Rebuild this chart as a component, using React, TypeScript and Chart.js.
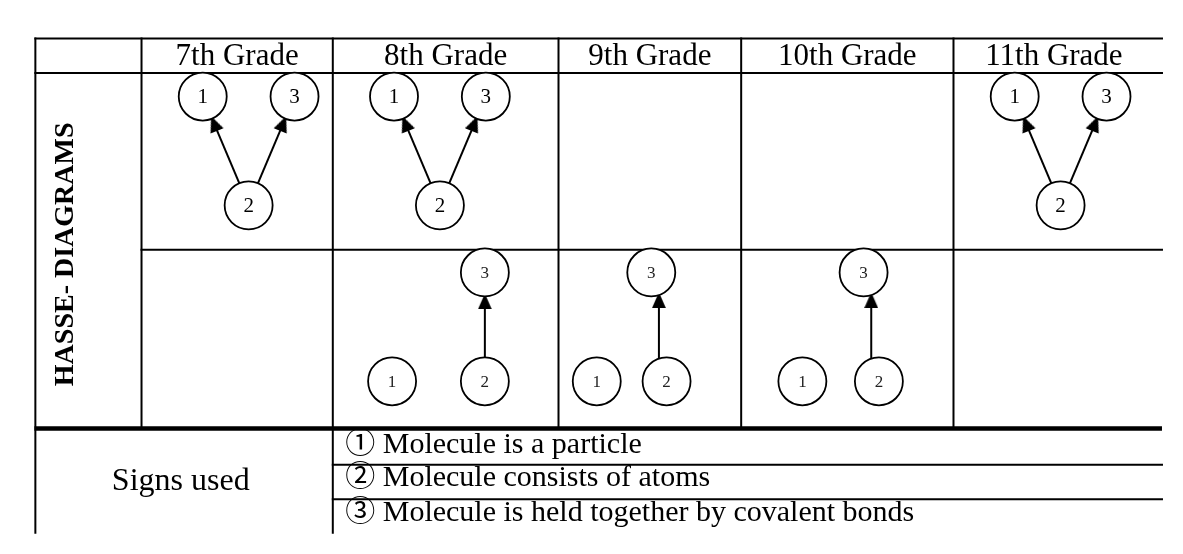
import React, { useEffect, useRef } from 'react';
import { Chart, registerables } from 'chart.js';

Chart.register(...registerables);

// ---------------- data ----------------
const grades = ['7th Grade', '8th Grade', '9th Grade', '10th Grade', '11th Grade'];
const nodeNames = ['1', '2', '3'];
// Hasse diagrams: edges [from, to] (arrow points to "to")
const upperEdges: number[][][] = [[[2, 1], [2, 3]], [[2, 1], [2, 3]], [], [], [[2, 1], [2, 3]]];
const lowerEdges: number[][][] = [[], [[2, 3]], [[2, 3]], [[2, 3]], []];
const upperShown = [true, true, false, false, true];
const lowerShown = [false, true, true, true, false];
const signs = [
  '\u2460 Molecule is a particle',
  '\u2461 Molecule consists of atoms',
  '\u2462 Molecule is held together by covalent bonds',
];
const rowTitle = 'HASSE- DIAGRAMS';
const signsTitle = 'Signs used';

// ---------------- layout ----------------
const W = 1183;
const H = 554;
const COLS = [10, 121, 321, 557, 748, 970, 1180];
const Y_TOP = 14;
const Y_HEAD = 52;
const Y_MID = 247;
const Y_THICK = 444;
const Y_S1 = 484;
const Y_S2 = 522;
const R = 24;
const HEAD_W = 14;
const HEAD_L = 16;
const SERIF = '"Liberation Serif", "Times New Roman", "Noto Serif", serif';

// node offsets from column left edge
const UPPER_LAYOUT: Record<string, number[]> = { '1': [64, 78], '2': [112, 198], '3': [160, 78] };
const LOWER_LAYOUT: (Record<string, number[]> | null)[] = [
  null,
  { '1': [62, 392], '2': [159, 392], '3': [159, 272] },
  { '1': [40, 392], '2': [113, 392], '3': [97, 272] },
  { '1': [64, 392], '2': [144, 392], '3': [128, 272] },
  null,
];

type Pt = { x: number; y: number };
type NodeP = Pt & { label: string; small: boolean };

function buildGraph() {
  const nodes: NodeP[] = [];
  const lines: Pt[][] = [];
  const heads: Pt[] = [];
  const rots: number[] = [];
  const pos = (g: number, lay: Record<string, number[]>, n: number): Pt => ({
    x: COLS[g + 1] + lay[String(n)][0],
    y: lay[String(n)][1],
  });
  const addHead = (tip: Pt, dx: number, dy: number) => {
    heads.push({ x: tip.x - (HEAD_L / 2) * dx, y: tip.y - (HEAD_L / 2) * dy });
    rots.push((Math.atan2(dx, -dy) * 180) / Math.PI);
  };
  grades.forEach((_, g) => {
    if (upperShown[g]) {
      nodeNames.forEach((nm, i) => {
        const p = pos(g, UPPER_LAYOUT, i + 1);
        nodes.push({ ...p, label: nm, small: false });
      });
      upperEdges[g].forEach(([a, b]) => {
        const s = pos(g, UPPER_LAYOUT, a);
        const t = pos(g, UPPER_LAYOUT, b);
        const len = Math.hypot(t.x - s.x, t.y - s.y);
        const dx = (t.x - s.x) / len;
        const dy = (t.y - s.y) / len;
        const start = { x: s.x + R * dx, y: s.y + R * dy };
        const tip = { x: t.x - R * dx, y: t.y - R * dy };
        lines.push([start, { x: tip.x - (HEAD_L - 2) * dx, y: tip.y - (HEAD_L - 2) * dy }]);
        addHead(tip, dx, dy);
      });
    }
    const lay = LOWER_LAYOUT[g];
    if (lowerShown[g] && lay) {
      nodeNames.forEach((nm, i) => {
        const p = pos(g, lay, i + 1);
        nodes.push({ ...p, label: nm, small: true });
      });
      lowerEdges[g].forEach(([a, b]) => {
        const s = pos(g, lay, a);
        const t = pos(g, lay, b);
        const x = (s.x + t.x) / 2;
        const sy = s.y - Math.sqrt(R * R - (x - s.x) ** 2);
        const ty = t.y + Math.sqrt(R * R - (x - t.x) ** 2);
        lines.push([{ x, y: sy }, { x, y: ty + HEAD_L - 2 }]);
        addHead({ x, y: ty }, 0, -1);
      });
    }
  });
  return { nodes, lines, heads, rots };
}

function makeHead(): HTMLCanvasElement {
  const c = document.createElement('canvas');
  c.width = HEAD_W;
  c.height = HEAD_L;
  const g = c.getContext('2d')!;
  g.fillStyle = '#000';
  g.beginPath();
  g.moveTo(HEAD_W / 2, 0);
  g.lineTo(HEAD_W, HEAD_L);
  g.lineTo(0, HEAD_L);
  g.closePath();
  g.fill();
  return c;
}

export default function App() {
  const ref = useRef<HTMLCanvasElement>(null);
  useEffect(() => {
    const { nodes, lines, heads, rots } = buildGraph();
    const head = makeHead();

    const tablePlugin = {
      id: 'hasseTable',
      beforeDatasetsDraw(chart: any) {
        const { ctx } = chart;
        const sx = chart.scales.x;
        const sy = chart.scales.y;
        const px = (v: number) => sx.getPixelForValue(v);
        const py = (v: number) => sy.getPixelForValue(v);
        ctx.save();
        ctx.strokeStyle = '#000';
        ctx.lineCap = 'square';
        const seg = (x1: number, y1: number, x2: number, y2: number, w = 2) => {
          ctx.lineWidth = w;
          ctx.beginPath();
          ctx.moveTo(px(x1), py(y1));
          ctx.lineTo(px(x2), py(y2));
          ctx.stroke();
        };
        const L = COLS[0];
        const Rt = W + 5;
        seg(L, Y_TOP, Rt, Y_TOP);
        seg(L, Y_HEAD, Rt, Y_HEAD);
        seg(COLS[1], Y_MID, Rt, Y_MID);
        seg(COLS[2], Y_S1, Rt, Y_S1);
        seg(COLS[2], Y_S2, Rt, Y_S2);
        seg(L, Y_TOP, L, H + 5);
        seg(COLS[2], Y_TOP, COLS[2], H + 5);
        [1, 3, 4, 5].forEach((i) => seg(COLS[i], Y_TOP, COLS[i], Y_THICK));
        ctx.lineCap = 'butt';
        seg(L - 1, Y_THICK, Rt, Y_THICK, 4.5);
        ctx.restore();
      },
      afterDatasetsDraw(chart: any) {
        const { ctx } = chart;
        const sx = chart.scales.x;
        const sy = chart.scales.y;
        const px = (v: number) => sx.getPixelForValue(v);
        const py = (v: number) => sy.getPixelForValue(v);
        ctx.save();
        ctx.fillStyle = '#000';
        // headers
        ctx.font = `31px ${SERIF}`;
        ctx.textAlign = 'center';
        ctx.textBaseline = 'alphabetic';
        grades.forEach((g, i) => {
          ctx.fillText(g, px((COLS[i + 1] + COLS[i + 2]) / 2), py(43.5));
        });
        // node labels
        ctx.textBaseline = 'middle';
        nodes.forEach((n) => {
          ctx.font = n.small ? `17px ${SERIF}` : `21px ${SERIF}`;
          ctx.fillStyle = n.small ? '#222' : '#000';
          ctx.fillText(n.label, px(n.x), py(n.y + 1.5));
        });
        ctx.fillStyle = '#000';
        // signs
        ctx.textBaseline = 'alphabetic';
        ctx.textAlign = 'left';
        ctx.font = `30px ${SERIF}, "Noto Sans CJK JP"`;
        const bases = [471, 508, 546];
        signs.forEach((s, i) => ctx.fillText(s, px(COLS[2] + 13), py(bases[i])));
        ctx.textAlign = 'center';
        ctx.font = `32px ${SERIF}`;
        ctx.fillText(signsTitle, px(162), py(512));
        // vertical title
        ctx.save();
        ctx.translate(px(42), py(252));
        ctx.rotate(-Math.PI / 2);
        ctx.font = `bold 28px ${SERIF}`;
        ctx.textBaseline = 'middle';
        ctx.fillText(rowTitle, 0, 0);
        ctx.restore();
        ctx.restore();
      },
    };

    const datasets: any[] = [
      {
        label: 'nodes',
        data: nodes.map((n) => ({ x: n.x, y: n.y })),
        pointStyle: 'circle',
        pointRadius: R,
        pointBorderWidth: 1.8,
        pointBorderColor: '#000',
        pointBackgroundColor: '#fff',
        showLine: false,
      },
      {
        label: 'heads',
        data: heads,
        pointStyle: head,
        pointRadius: 8,
        pointRotation: rots,
        showLine: false,
      },
      ...lines.map((l, i) => ({
        label: 'edge' + i,
        data: l,
        showLine: true,
        borderColor: '#000',
        borderWidth: 2,
        pointRadius: 0,
        fill: false,
      })),
    ];

    const chart = new Chart(ref.current as HTMLCanvasElement, {
      type: 'scatter',
      data: { datasets },
      options: {
        animation: false,
        responsive: false,
        devicePixelRatio: 1,
        events: [],
        layout: { padding: 0 },
        plugins: { legend: { display: false }, tooltip: { enabled: false } },
        scales: {
          x: { type: 'linear', min: 0, max: W, display: false },
          y: { type: 'linear', min: 0, max: H, reverse: true, display: false },
        },
      },
      plugins: [tablePlugin],
    } as any);
    return () => chart.destroy();
  }, []);

  return (
    <div style={{ position: 'absolute', left: 0, top: 0, width: W, height: H, background: '#fff' }}>
      <canvas ref={ref} width={W} height={H} style={{ display: 'block' }} />
    </div>
  );
}
